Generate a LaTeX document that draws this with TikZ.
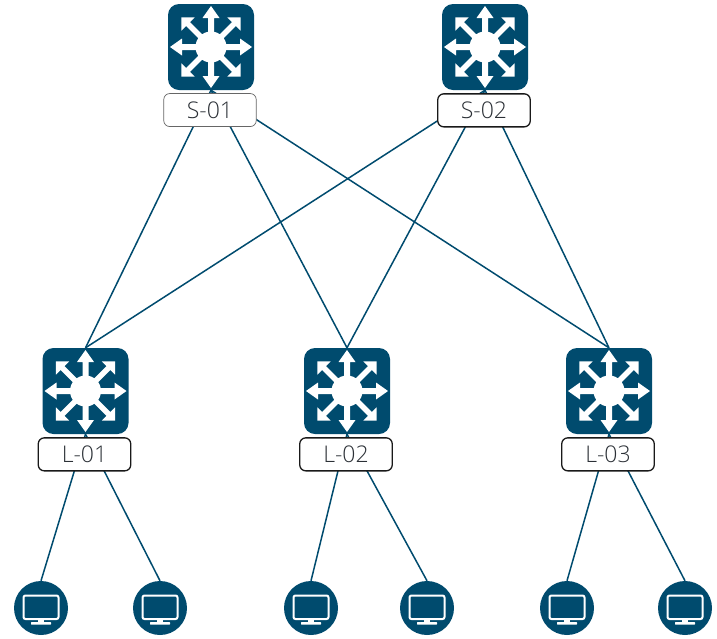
\documentclass[tikz,border=0pt]{standalone}
\usepackage{fontspec}
\setmainfont{Open Sans}[UprightFont=* Light]
\usetikzlibrary{positioning,calc}
\definecolor{ciscoblue}{HTML}{004B6E}
\definecolor{labeltext}{HTML}{2B3036}
\tikzset{
  switchbox/.style={fill=ciscoblue,rounded corners=11pt,minimum size=86pt,inner sep=0pt},
  hostdot/.style={circle,fill=ciscoblue,minimum size=54pt,inner sep=0pt},
  namebox/.style={draw=black!90,line width=1.3pt,fill=white,rounded corners=6pt,minimum width=92.5pt,minimum height=33pt,inner sep=0pt,xshift=-1pt,text=labeltext,font=\fontsize{23}{27}\selectfont},
  uplink/.style={draw=ciscoblue,line width=1.5pt}
}
\newcommand{\switchicon}[1]{
  \fill[white] (#1) circle (15.5);
  % straight arrows
  \foreach \ang in {0,90,180,270}
    \fill[white,shift={(#1)},rotate=\ang] (10,-3)--(29,-3)--(29,-8.5)--(41,0)--(29,8.5)--(29,3)--(10,3)--cycle;
  % diagonal arrows
  \foreach \ang in {45,135,225,315}
    \fill[white,shift={(#1)},rotate=\ang] (10,-2.7)--(32.5,-2.7)--(32.5,-9.5)--(42,0)--(32.5,9.5)--(32.5,2.7)--(10,2.7)--cycle;
}
\newcommand{\hosticon}[1]{
  \draw[white,line width=2pt,rounded corners=2pt] ($(#1)+(-17.5,-12.5)$) rectangle ($(#1)+(17.5,11)$);
  \fill[white] ($(#1)+(-3,12)$) rectangle ($(#1)+(3,14)$);
  \fill[white,rounded corners=0.5pt] ($(#1)+(-10,14)$) rectangle ($(#1)+(10,16.5)$);
}
\begin{document}
\begin{tikzpicture}[x=1pt,y=-1pt]
    \useasboundingbox (0,0) rectangle (717,638);

    % Spine and leaf switches
    \node[switchbox] (s01) at (211,47) {};
    \node[switchbox] (s02) at (485,47) {};
    \node[switchbox] (l01) at (85.5,391) {};
    \node[switchbox] (l02) at (347,391) {};
    \node[switchbox] (l03) at (609,391) {};

    % Hosts
    \node[hostdot] (h1) at (41,608) {};
    \node[hostdot] (h2) at (160,608) {};
    \node[hostdot] (h3) at (311,608) {};
    \node[hostdot] (h4) at (427,608) {};
    \node[hostdot] (h5) at (567,608) {};
    \node[hostdot] (h6) at (685,608) {};

    % Fabric links
    \foreach \sw in {s01,s02}
      \foreach \lf in {l01,l02,l03}
        \draw[uplink] (\sw.south) -- (\lf.north);

    % Host links
    \draw[uplink] (l01.south) -- (h1.north);
    \draw[uplink] (l01.south) -- (h2.north);
    \draw[uplink] (l02.south) -- (h3.north);
    \draw[uplink] (l02.south) -- (h4.north);
    \draw[uplink] (l03.south) -- (h5.north);
    \draw[uplink] (l03.south) -- (h6.north);

    % Icons
    \foreach \sw in {s01,s02,l01,l02,l03}
      {\switchicon{\sw}}
    \foreach \hst in {h1,h2,h3,h4,h5,h6}
      {\hosticon{\hst}}

    % Names
    \node[namebox,draw=black!60,line width=0.7pt,below=3pt of s01] (s01name) {S-01};
    \node[namebox,below=3pt of s02] (s02name) {S-02};
    \node[namebox,below=3pt of l01] (l01name) {L-01};
    \node[namebox,below=3pt of l02] (l02name) {L-02};
    \node[namebox,below=3pt of l03] (l03name) {L-03};
\end{tikzpicture}
\end{document}
